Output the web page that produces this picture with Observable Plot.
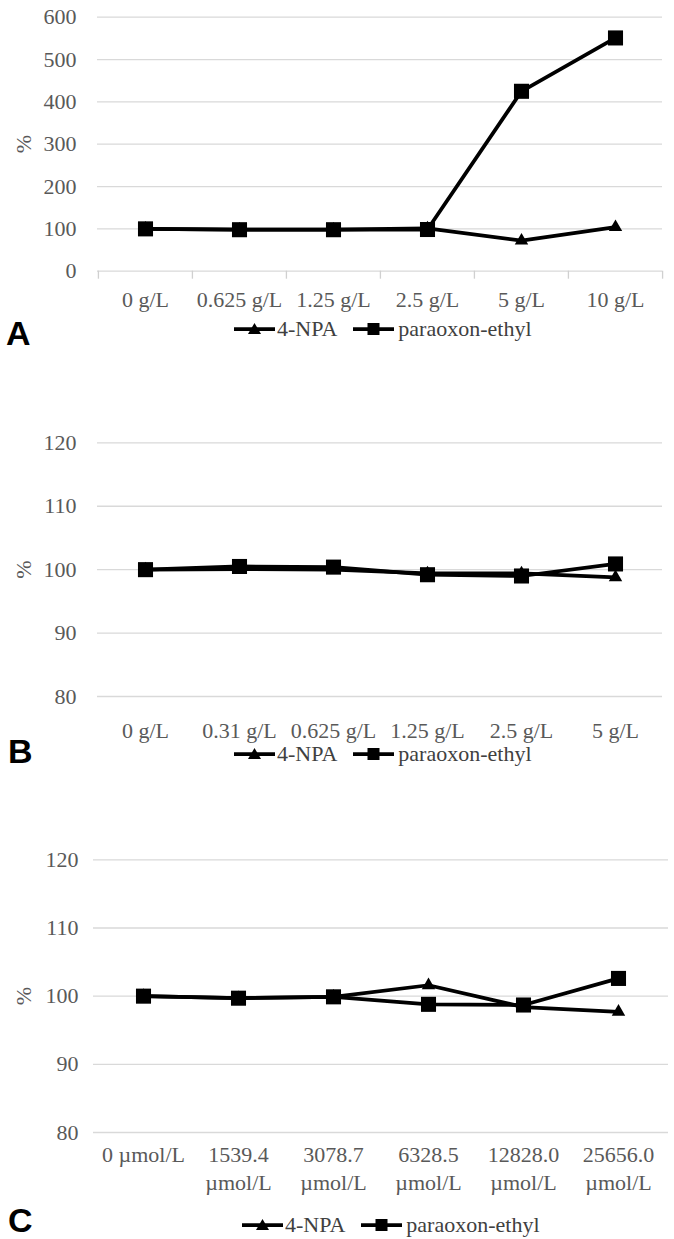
<!DOCTYPE html>
<html><head><meta charset="utf-8">
<script src="https://cdn.jsdelivr.net/npm/d3@7"></script>
<script src="https://cdn.jsdelivr.net/npm/@observablehq/plot@0.6"></script>
<style>
body{margin:0;background:#fff;}
#root{position:relative;width:674px;height:1239px;overflow:hidden;font-family:"Liberation Serif","Times New Roman",serif;}
.panel{position:absolute;left:0;}
.letter{position:absolute;font-family:"Liberation Sans",Arial,sans-serif;font-weight:bold;font-size:34px;line-height:1;color:#000;}
.legend{position:absolute;display:flex;align-items:center;font-size:22px;line-height:20px;color:#404040;white-space:nowrap;}
.legend svg{display:block;}
</style></head><body><div id="root"></div>
<script>
// ---- data ----
const seriesNames = ["4-NPA", "paraoxon-ethyl"];

const catsA = ["0 g/L", "0.625 g/L", "1.25 g/L", "2.5 g/L", "5 g/L", "10 g/L"];
const npaA = [100, 98, 98, 101, 72, 104];
const parA = [100, 98, 98, 98.5, 425, 551];
const yTicksA = [0, 100, 200, 300, 400, 500, 600];

const catsB = ["0 g/L", "0.31 g/L", "0.625 g/L", "1.25 g/L", "2.5 g/L", "5 g/L"];
const npaB = [100, 100.1, 100.0, 99.4, 99.4, 98.8];
const parB = [100, 100.5, 100.4, 99.2, 99.0, 100.9];
const yTicksB = [80, 90, 100, 110, 120];

const catsC = ["0 µmol/L", "1539.4\nµmol/L", "3078.7\nµmol/L", "6328.5\nµmol/L", "12828.0\nµmol/L", "25656.0\nµmol/L"];
const npaC = [100, 99.7, 99.9, 101.6, 98.4, 97.7];
const parC = [100, 99.7, 99.9, 98.8, 98.7, 102.6];
const yTicksC = [80, 90, 100, 110, 120];

const panelLetters = ["A", "B", "C"];

// ---- drawing ----
const root = document.getElementById("root");

function makePanel(cfg) {
  const rows = (vals) => cfg.cats.map((c, i) => ({cat: c, value: vals[i]}));
  const npaRows = rows(cfg.npa), parRows = rows(cfg.par);
  const step = (674 - cfg.ml - cfg.mr) / cfg.cats.length;
  const marks = [
    Plot.ruleY(cfg.yTicks, {stroke: "#d9d9d9", strokeWidth: 1.3})
  ];
  if (cfg.boundaryTicks) {
    marks.push(Plot.axisX(cfg.cats, {tickSize: 8, fill: "none", stroke: "#d0d0d0", strokeWidth: 1.3, dx: -step / 2, label: null}));
    marks.push(Plot.axisX([cfg.cats[cfg.cats.length - 1]], {tickSize: 8, fill: "none", stroke: "#d0d0d0", strokeWidth: 1.3, dx: step / 2, label: null}));
  }
  marks.push(
    Plot.axisY(cfg.yTicks, {tickSize: 0, tickPadding: cfg.tpy, label: "%", labelAnchor: "center", labelArrow: "none", labelOffset: cfg.ml - 14.5, fill: "#595959"}),
    Plot.axisX({tickSize: 0, tickPadding: cfg.tpx, lineHeight: 1.27, fill: "#595959", label: null}),
    Plot.line(npaRows, {x: "cat", y: "value", stroke: "black", strokeWidth: 3.75}),
    Plot.dot(npaRows, {x: "cat", y: "value", symbol: "triangle", r: 5, fill: "black"}),
    Plot.line(parRows, {x: "cat", y: "value", stroke: "black", strokeWidth: 3.75}),
    Plot.dot(parRows, {x: "cat", y: "value", symbol: "square", r: 8.5, fill: "black"})
  );
  const chart = Plot.plot({
    width: 674, height: cfg.height,
    marginTop: cfg.mt, marginBottom: cfg.mb, marginLeft: cfg.ml, marginRight: cfg.mr,
    style: {fontFamily: "'Liberation Serif','Times New Roman',serif", fontSize: "22px", color: "#595959", background: "transparent", overflow: "visible"},
    x: {type: "point", domain: cfg.cats, padding: 0.5},
    y: {domain: cfg.domain},
    marks
  });
  const wrap = document.createElement("div");
  wrap.className = "panel";
  wrap.style.top = cfg.top + "px";
  wrap.appendChild(chart);
  root.appendChild(wrap);

  const letter = document.createElement("div");
  letter.className = "letter";
  letter.textContent = cfg.letter;
  letter.style.left = cfg.letterX + "px";
  letter.style.top = cfg.letterY + "px";
  root.appendChild(letter);

  const lg = document.createElement("div");
  lg.className = "legend";
  lg.style.left = cfg.legendX + "px";
  lg.style.top = cfg.legendY + "px";
  const sw = (sym) => {
    const m = sym === "triangle"
      ? `<path d="M20.5,2 L27,13 L14,13 Z" fill="black"/>`
      : `<rect x="14.5" y="2" width="12" height="12" fill="black"/>`;
    return `<svg width="41" height="16"><line x1="0" y1="8" x2="41" y2="8" stroke="black" stroke-width="3.75"/>${m}</svg>`;
  };
  lg.innerHTML = `${sw("triangle")}<span style="margin:0 16px 0 2px">${seriesNames[0]}</span>${sw("square")}<span style="margin-left:4px">${seriesNames[1]}</span>`;
  root.appendChild(lg);
}

makePanel({letter: panelLetters[0], cats: catsA, npa: npaA, par: parA, yTicks: yTicksA, domain: [0, 600],
  top: 0, height: 320, mt: 16.7, mb: 49.3, ml: 97, mr: 12, tpx: 16, tpy: 21, boundaryTicks: true,
  letterX: 6, letterY: 315.5, legendX: 234, legendY: 319});

makePanel({letter: panelLetters[1], cats: catsB, npa: npaB, par: parB, yTicks: yTicksB, domain: [80, 120],
  top: 400, height: 350, mt: 42.3, mb: 54, ml: 97, mr: 12, tpx: 22, tpy: 21, boundaryTicks: false,
  letterX: 8, letterY: 733.5, legendX: 234, legendY: 744});

makePanel({letter: panelLetters[2], cats: catsC, npa: npaC, par: parC, yTicks: yTicksC, domain: [80, 120],
  top: 820, height: 380, mt: 39.3, mb: 68, ml: 93, mr: 6, tpx: 10, tpy: 15, boundaryTicks: false,
  letterX: 8, letterY: 1202.5, legendX: 242, legendY: 1215});
</script></body></html>
